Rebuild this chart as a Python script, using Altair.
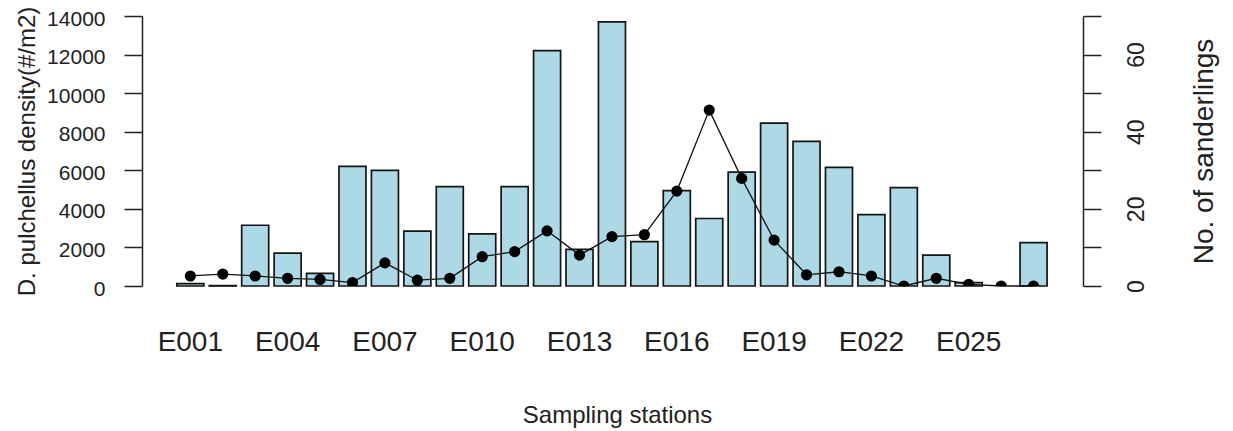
import altair as alt
import pandas as pd

# Sampling stations along the transect
stations = [
    "E001", "E002", "E003", "E004", "E005", "E006", "E007", "E008", "E009",
    "E010", "E011", "E012", "E013", "E014", "E015", "E016", "E017", "E018",
    "E019", "E020", "E021", "E022", "E023", "E024", "E025", "E026", "E027",
]

# D. pulchellus density (individuals per m2) at each station
density = [
    120, 20, 3150, 1700, 650, 6200, 6000, 2850, 5150,
    2700, 5150, 12200, 1900, 13700, 2300, 4950, 3500, 5900,
    8450, 7500, 6150, 3700, 5100, 1600, 180, None, 2250,
]

# Number of sanderlings counted at each station
sanderlings = [
    2.6, 3.1, 2.6, 2.0, 1.7, 0.9, 6.0, 1.5, 2.0,
    7.6, 8.9, 14.3, 8.0, 12.8, 13.3, 24.6, 45.6, 27.9,
    11.9, 2.9, 3.7, 2.6, 0.0, 2.0, 0.4, 0.0, 0.0,
]

shown_labels = ["E001", "E004", "E007", "E010", "E013", "E016", "E019", "E022", "E025"]
density_ticks = [0, 2000, 4000, 6000, 8000, 10000, 12000, 14000]
bird_ticks = [0, 10, 20, 30, 40, 50, 60, 70]

df = pd.DataFrame({"station": stations, "density": density, "birds": sanderlings})

FONT = "Liberation Sans"
INK = "#222222"

# bars 1 unit wide with 0.2 unit gaps, as in a classic barplot
x_scale = alt.Scale(
    type="band", domain=stations, paddingInner=1 / 6, paddingOuter=0.5,
    range=[18.6, 921.3],
)

x_axis = alt.Axis(
    values=shown_labels,
    domain=False,
    ticks=False,
    tickSize=0,
    labelFontSize=28,
    labelBaseline="alphabetic",
    labelPadding=64,
    labelColor=INK,
    labelFont=FONT,
    labelAngle=0,
    labelOverlap=False,
    title="Sampling stations",
    titleFont=FONT,
    titleFontSize=24,
    titleFontWeight="normal",
    titleColor=INK,
    titleBaseline="alphabetic",
    titleX=475,
    titleY=136,
)

left_axis = alt.Axis(
    values=density_ticks,
    format="d",
    grid=False,
    domainColor=INK,
    domainWidth=1.5,
    tickColor=INK,
    tickWidth=1.5,
    tickSize=18,
    labelFontSize=21,
    labelFont=FONT,
    labelColor=INK,
    labelPadding=19,
    labelBaseline="middle",
    labelOffset=3,
    labelFlush=False,
    labelOverlap=False,
    title="D. pulchellus density(#/m2)",
    titleFont=FONT,
    titleFontSize=24,
    titleFontWeight="normal",
    titleColor=INK,
    titleAngle=270,
    titleAlign="center",
    titleBaseline="alphabetic",
    titleX=-108,
    titleY=135,
)

right_axis = alt.Axis(
    orient="right",
    values=bird_ticks,
    grid=False,
    domainColor=INK,
    domainWidth=1.5,
    tickColor=INK,
    tickWidth=1.5,
    tickSize=18,
    labelExpr="datum.value % 20 == 0 ? datum.label : ''",
    labelAngle=270,
    labelAlign="center",
    labelBaseline="top",
    labelPadding=24,
    labelFontSize=23,
    labelFont=FONT,
    labelColor=INK,
    labelFlush=False,
    labelOverlap=False,
    title="No. of sanderlings",
    titleFont=FONT,
    titleFontSize=28,
    titleFontWeight="normal",
    titleColor=INK,
    titleAngle=270,
    titleAlign="center",
    titleBaseline="alphabetic",
    titleX=129,
    titleY=135,
)

bars = alt.Chart(df).mark_bar(
    fill="#ADD8E6", stroke="#151515", strokeWidth=1.7
).encode(
    x=alt.X("station:N", scale=x_scale, axis=x_axis, sort=stations),
    y=alt.Y("density:Q", scale=alt.Scale(domain=[0, 14000], nice=False, zero=True), axis=left_axis),
)

bird_x = alt.X("station:N", scale=x_scale, sort=stations, bandPosition=0.5)
bird_scale = alt.Scale(domain=[0, 70], nice=False)

birds_line = alt.Chart(df).mark_line(color="#111111", strokeWidth=1.3).encode(
    x=bird_x, y=alt.Y("birds:Q", scale=bird_scale, axis=right_axis)
)
birds_pts = alt.Chart(df).mark_circle(color="#000000", opacity=1, size=125, clip=True).encode(
    x=bird_x, y=alt.Y("birds:Q", scale=bird_scale, axis=None)
)

chart = (
    alt.layer(bars, birds_line, birds_pts)
    .resolve_scale(y="independent")
    .properties(
        width=941,
        height=270,
        autosize=alt.AutoSizeParams(type="none"),
        padding={"left": 142, "top": 16, "right": 150, "bottom": 145},
        background="white",
    )
    .configure_view(stroke=None)
)

chart.save("out.html", embed_options={"renderer": "svg", "actions": False})
